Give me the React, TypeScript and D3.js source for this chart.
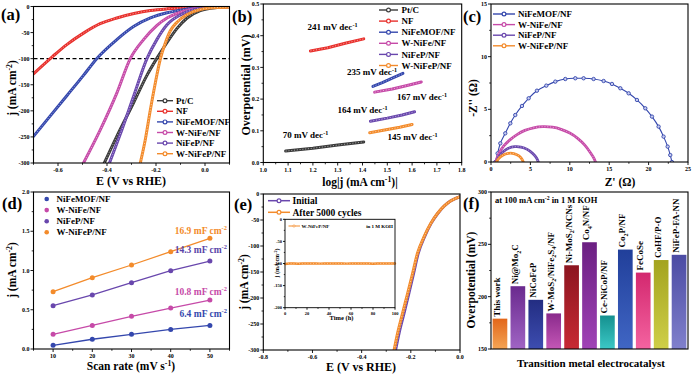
import React from "react";
import * as d3 from "d3";

const FONT = "'Liberation Serif','Times New Roman',Times,serif";
const W = 693;
const H = 376;
type P = [number, number];

const C_PTC = "#3a3a3a";
const C_NF = "#e8302c";
const C_MOF = "#3447ad";
const C_WNIFE = "#c64aa8";
const C_NIFEP = "#6947ad";
const C_WNIFEP = "#f38b2b";

// ---------- (a) LSV ----------
const aNames = ["Pt/C", "NF", "NiFeMOF/NF", "W-NiFe/NF", "NiFeP/NF", "W-NiFeP/NF"];
const aColors = [C_PTC, C_NF, C_MOF, C_WNIFE, C_NIFEP, C_WNIFEP];
const aPtC: P[] = [[-0.411, -300], [-0.36, -249], [-0.29, -183], [-0.237, -132], [-0.196, -99], [-0.155, -69], [-0.114, -42], [-0.073, -22], [-0.019, -8], [0.049, -2], [0.1, -0.6]];
const aNF: P[] = [[-0.70, -129], [-0.62, -95], [-0.564, -73], [-0.496, -51], [-0.428, -33], [-0.36, -22], [-0.29, -13.5], [-0.223, -7.7], [-0.155, -4.5], [-0.087, -2.6], [-0.019, -1], [0.1, 0]];
const aMOF: P[] = [[-0.70, -249], [-0.564, -171], [-0.496, -132], [-0.442, -100], [-0.36, -63.5], [-0.29, -38], [-0.223, -22], [-0.155, -12], [-0.087, -6], [-0.019, -2], [0.1, 0]];
const aWNiFe: P[] = [[-0.496, -300], [-0.428, -237], [-0.36, -166], [-0.305, -100], [-0.25, -63], [-0.196, -36], [-0.155, -22], [-0.087, -9], [-0.019, -2.6], [0.1, -0.5]];
const aNiFeP: P[] = [[-0.39, -300], [-0.346, -245], [-0.29, -170], [-0.237, -100], [-0.196, -63], [-0.155, -35], [-0.10, -16], [-0.046, -6], [0.0085, -2], [0.1, 0]];
const aWNiFeP: P[] = [[-0.264, -300], [-0.244, -256], [-0.223, -198], [-0.203, -147], [-0.182, -100], [-0.162, -70], [-0.142, -47], [-0.114, -30], [-0.073, -15.4], [-0.019, -5.8], [0.049, -2], [0.1, -1.3]];
const aSeries = [aPtC, aNF, aMOF, aWNiFe, aNiFeP, aWNiFeP];
const aXTicks = [-0.6, -0.4, -0.2, 0.0];
const aXLabels = ["-0.6", "-0.4", "-0.2", "0.0"];
const aXMinor = [-0.7, -0.5, -0.3, -0.1, 0.1];
const aYTicks = [0, -50, -100, -150, -200, -250, -300];
const aYLabels = ["0", "-50", "-100", "-150", "-200", "-250", "-300"];
const aYMinor = [-25, -75, -125, -175, -225, -275];

// ---------- (b) Tafel ----------
const bPtC: P[] = [[1.09, 0.036], [1.2, 0.045], [1.3, 0.055], [1.405, 0.065]];
const bNF: P[] = [[1.19, 0.352], [1.26, 0.362], [1.33, 0.376], [1.405, 0.39]];
const bMOF: P[] = [[1.442, 0.240], [1.48, 0.252], [1.52, 0.266], [1.563, 0.281]];
const bWNiFe: P[] = [[1.449, 0.222], [1.52, 0.232], [1.58, 0.243], [1.637, 0.254]];
const bNiFeP: P[] = [[1.432, 0.130], [1.5, 0.140], [1.56, 0.150], [1.61, 0.160]];
const bWNiFeP: P[] = [[1.429, 0.094], [1.5, 0.104], [1.55, 0.111], [1.60, 0.120]];
const bSeries = [bPtC, bNF, bMOF, bWNiFe, bNiFeP, bWNiFeP];
const bSlopes = ["70", "241", "235", "167", "164", "145"];
const bXTicks = [1.0, 1.1, 1.2, 1.3, 1.4, 1.5, 1.6, 1.7, 1.8];
const bXLabels = ["1.0", "1.1", "1.2", "1.3", "1.4", "1.5", "1.6", "1.7", "1.8"];
const bXMinor = [1.05, 1.15, 1.25, 1.35, 1.45, 1.55, 1.65, 1.75];
const bYTicks = [0, 0.1, 0.2, 0.3, 0.4, 0.5];
const bYLabels = ["0.0", "0.1", "0.2", "0.3", "0.4", "0.5"];
const bYMinor = [0.05, 0.15, 0.25, 0.35, 0.45];

// ---------- (c) Nyquist ----------
const cNames = ["NiFeMOF/NF", "W-NiFe/NF", "NiFeP/NF", "W-NiFeP/NF"];
const cColors = [C_MOF, C_WNIFE, C_NIFEP, C_WNIFEP];
const cMOF: P[] = [[0.55, 0], [0.84, 0.82], [1.18, 1.77], [1.81, 2.72], [2.45, 3.67], [3.08, 4.46], [3.93, 5.32], [4.78, 6.05], [5.83, 6.77], [7.02, 7.25], [8.16, 7.63], [9.43, 7.88], [10.7, 7.95], [11.75, 7.95], [13.02, 7.88], [14.29, 7.69], [15.35, 7.41], [16.41, 7.0], [17.47, 6.52], [18.52, 5.89], [19.58, 5.10], [20.43, 4.31], [21.27, 3.36], [21.9, 2.41], [22.42, 1.46], [22.75, 0.66], [22.96, 0]];
const cWNiFe: P[] = [[0.6, 0], [1.0, 0.8], [1.6, 1.5], [2.4, 2.1], [3.3, 2.6], [4.3, 3.0], [5.4, 3.25], [6.6, 3.35], [7.8, 3.3], [8.9, 3.1], [10.0, 2.75], [11.0, 2.25], [11.9, 1.6], [12.6, 0.9], [13.1, 0.3], [13.25, 0]];
const cNiFeP: P[] = [[0.7, 0], [1.0, 0.5], [1.5, 0.95], [2.2, 1.3], [3.0, 1.45], [3.8, 1.42], [4.6, 1.2], [5.3, 0.8], [5.8, 0.35], [6.0, 0]];
const cWNiFeP: P[] = [[0.7, 0], [1.0, 0.35], [1.5, 0.65], [2.2, 0.82], [2.9, 0.8], [3.5, 0.6], [3.9, 0.3], [4.1, 0]];
const cSeries = [cMOF, cWNiFe, cNiFeP, cWNiFeP];
const cXTicks = [0, 5, 10, 15, 20, 25];
const cXLabels = ["0", "5", "10", "15", "20", "25"];
const cXMinor = [2.5, 7.5, 12.5, 17.5, 22.5];
const cYTicks = [0, 5, 10, 15];
const cYLabels = ["0", "5", "10", "15"];
const cYMinor = [2.5, 7.5, 12.5];

// ---------- (d) Cdl ----------
const dRates = [10, 20, 30, 40, 50];
const dMOF = [0.047, 0.124, 0.187, 0.25, 0.30];
const dWNiFe = [0.187, 0.30, 0.416, 0.522, 0.624];
const dNiFeP = [0.552, 0.688, 0.845, 0.997, 1.12];
const dWNiFeP = [0.73, 0.908, 1.07, 1.24, 1.41];
const dSeries = [dMOF, dWNiFe, dNiFeP, dWNiFeP];
const dColors = [C_MOF, C_WNIFE, C_NIFEP, C_WNIFEP];
const dCdl = ["6.4", "10.8", "14.3", "16.9"];
const dXTicks = [10, 20, 30, 40, 50];
const dXLabels = ["10", "20", "30", "40", "50"];
const dXMinor = [5, 15, 25, 35, 45, 55];
const dYTicks = [0, 0.5, 1.0, 1.5, 2.0];
const dYLabels = ["0.0", "0.5", "1.0", "1.5", "2.0"];
const dYMinor = [0.25, 0.75, 1.25, 1.75];

// ---------- (e) stability ----------
const eInitial: P[] = [[-0.262, -300], [-0.248, -268], [-0.228, -230], [-0.208, -191], [-0.189, -153], [-0.17, -114], [-0.144, -82], [-0.117, -56], [-0.09, -37], [-0.064, -23], [-0.037, -13], [0, -5]];
const eAfter: P[] = [[-0.268, -300], [-0.254, -268], [-0.234, -230], [-0.213, -191], [-0.193, -153], [-0.173, -114], [-0.146, -82], [-0.118, -56], [-0.091, -37], [-0.064, -23], [-0.037, -13], [0, -5]];
const eXTicks = [-0.8, -0.6, -0.4, -0.2, 0.0];
const eXLabels = ["-0.8", "-0.6", "-0.4", "-0.2", "0.0"];
const eXMinor = [-0.7, -0.5, -0.3, -0.1];
const eYTicks = [0, -50, -100, -150, -200, -250, -300];
const eYLabels = ["0", "-50", "-100", "-150", "-200", "-250", "-300"];
const eYMinor = [-25, -75, -125, -175, -225, -275];
const iTime = [0, 4, 8, 12, 16, 20, 24, 28, 32, 36, 40, 44, 48, 52, 56, 60, 64, 68, 72, 76, 80, 84, 88, 92, 96, 100];
const iJ = [-101, -100, -100, -100.5, -100, -99.8, -100, -100, -100.3, -100, -100, -99.7, -100, -100, -100.2, -100, -100, -99.9, -100, -100, -100.4, -100, -100, -99.8, -100, -100];
const iXTicks = [0, 20, 40, 60, 80, 100];
const iYTicks = [0, -50, -100, -150, -200];

// ---------- (f) comparison ----------
const fCats = ["This work", "Ni@Mo_2C", "NiCoFeP", "W-MoS_2/NiFe_2S_4/NF", "Ni-MoS_2/NCNs", "Co_4N/NF", "Ce-NiCoP/NF", "Co_2P/NF", "FeCoSe", "CoHF/P-O", "NiFeP-FA-NN"];
const fVals = [179, 210, 197, 184, 230, 252, 182, 245, 223, 235, 240];
const fTopCol = ["#e2661a", "#6a2a8e", "#232d82", "#8a2a8c", "#8c1520", "#6b1f82", "#14908f", "#213f9a", "#d3286f", "#a3a31f", "#4b4ba3"];
const fBotCol = ["#f4a555", "#a064c4", "#3d4db0", "#c457b6", "#c72a33", "#a043b6", "#3cc8c6", "#4066c4", "#f463a0", "#cfcf48", "#8080cc"];
const fYTicks = [150, 200, 250, 300];
const fYLabels = ["150", "200", "250", "300"];
const fYMinor = [175, 225, 275];

const tickStyle = { fontFamily: FONT, fontWeight: 700 as const };

function Frame({ xs, ys, xt, xl, xm, yt, yl, ym, fs = 6, tl = 3, sw = 1.1 }: any) {
  const [xa, xb] = xs.range();
  const [yb, ya] = ys.range();
  return (
    <g>
      <rect x={xa} y={ya} width={xb - xa} height={yb - ya} fill="none" stroke="#000" strokeWidth={sw} />
      {xt.map((v: number, i: number) => (
        <g key={"xt" + i}>
          <line x1={xs(v)} x2={xs(v)} y1={yb} y2={yb + tl} stroke="#000" strokeWidth={0.9} />
          <text x={xs(v)} y={yb + tl + fs + 0.3} fontSize={fs} textAnchor="middle" {...tickStyle}>{xl[i]}</text>
        </g>
      ))}
      {xm.map((v: number, i: number) => (
        <line key={"xm" + i} x1={xs(v)} x2={xs(v)} y1={yb} y2={yb + tl * 0.6} stroke="#000" strokeWidth={0.8} />
      ))}
      {yt.map((v: number, i: number) => (
        <g key={"yt" + i}>
          <line x1={xa - tl} x2={xa} y1={ys(v)} y2={ys(v)} stroke="#000" strokeWidth={0.9} />
          <text x={xa - tl - 1} y={ys(v)} dy="0.35em" fontSize={fs} textAnchor="end" {...tickStyle}>{yl[i]}</text>
        </g>
      ))}
      {ym.map((v: number, i: number) => (
        <line key={"ym" + i} x1={xa - tl * 0.6} x2={xa} y1={ys(v)} y2={ys(v)} stroke="#000" strokeWidth={0.8} />
      ))}
    </g>
  );
}

function Beads({ d, color, w = 3 }: { d: string; color: string; w?: number }) {
  return (
    <g>
      <path d={d} fill="none" stroke={color} strokeWidth={w} strokeLinejoin="round" strokeLinecap="round" />
      <path d={d} fill="none" stroke="#fff" strokeOpacity={0.55} strokeWidth={w * 0.33} strokeDasharray="1.1 1.7" />
    </g>
  );
}

function SubText({ label, fs }: { label: string; fs: number }) {
  const parts = label.split(/_(\d)/);
  const out: any[] = [];
  let shifted = false;
  parts.forEach((p, i) => {
    if (p === "") return;
    if (i % 2 === 1) {
      out.push(<tspan key={i} dy={fs * 0.3} fontSize={fs * 0.68}>{p}</tspan>);
      shifted = true;
    } else {
      out.push(<tspan key={i} dy={shifted ? -fs * 0.3 : 0}>{p}</tspan>);
      shifted = false;
    }
  });
  return <>{out}</>;
}

function Sup({ base, sup, tail, fs }: { base: string; sup: string; tail?: string; fs: number }) {
  return (
    <>
      {base}
      <tspan dy={-fs * 0.38} fontSize={fs * 0.68}>{sup}</tspan>
      {tail ? <tspan dy={fs * 0.38}>{tail}</tspan> : null}
    </>
  );
}

export default function App() {
  const ax = d3.scaleLinear().domain([-0.7, 0.1]).range([33.5, 229.5]);
  const ay = d3.scaleLinear().domain([-300, 0]).range([163, 6.5]);
  const bx = d3.scaleLinear().domain([1.0, 1.8]).range([263.3, 461.7]);
  const by = d3.scaleLinear().domain([0, 0.5]).range([162.5, 4]);
  const cx = d3.scaleLinear().domain([0, 25]).range([491, 688]);
  const cy = d3.scaleLinear().domain([0, 15]).range([162, 4]);
  const dxs = d3.scaleLinear().domain([5, 55]).range([33.5, 229.5]);
  const dys = d3.scaleLinear().domain([0, 2]).range([349, 192]);
  const ex = d3.scaleLinear().domain([-0.8, 0]).range([263.3, 460]);
  const ey = d3.scaleLinear().domain([-300, 0]).range([350, 194]);
  const ix = d3.scaleLinear().domain([0, 100]).range([285, 395]);
  const iy = d3.scaleLinear().domain([-200, 0]).range([307.7, 219.3]);
  const fx = d3.scaleBand<string>().domain(fCats).range([491, 688]).paddingInner(0.18).paddingOuter(0.09);
  const fy = d3.scaleLinear().domain([150, 300]).range([349, 192]);

  const mk = (xs: any, ys: any, curve: any = d3.curveMonotoneX) =>
    d3.line<P>().x((d) => xs(d[0])).y((d) => ys(d[1])).curve(curve);
  const la = mk(ax, ay);
  const lb = mk(bx, by, d3.curveLinear);
  const lc = mk(cx, cy, d3.curveCatmullRom);
  const le = mk(ex, ey);
  const li = mk(ix, iy, d3.curveLinear);
  const ld = d3.line<number>().x((_, i) => dxs(dRates[i])).y((v) => dys(v));

  const T = { fontFamily: FONT, fontWeight: 700 as const, fill: "#000" };
  const PL = 16.5;
  const clip = (id: string, xs: any, ys: any) => {
    const [x0, x1] = xs.range();
    const [y1, y0] = ys.range();
    return (
      <clipPath id={id}>
        <rect x={x0} y={y0} width={x1 - x0} height={y1 - y0} />
      </clipPath>
    );
  };

  return (
    <svg width={W} height={H} style={{ position: "absolute", left: 0, top: 0, background: "#fff" }} fontFamily={FONT}>
      <defs>
        {clip("ca", ax, ay)}
        {clip("cb", bx, by)}
        {clip("cc", cx, cy)}
        {clip("ce", ex, ey)}
        {fCats.map((c, i) => (
          <linearGradient key={c} id={"fg" + i} x1="0" y1="0" x2="0" y2="1">
            <stop offset="0%" stopColor={fTopCol[i]} />
            <stop offset="100%" stopColor={fBotCol[i]} />
          </linearGradient>
        ))}
      </defs>
      <rect width={W} height={H} fill="#fff" />

      {/* ================= (a) ================= */}
      <g clipPath="url(#ca)">
        <line x1={ax(-0.7)} x2={ax(0.1)} y1={ay(-100)} y2={ay(-100)} stroke="#000" strokeWidth={1.1} strokeDasharray="4 2.5" />
        {aSeries.map((s, i) => (
          <Beads key={i} d={la(s) as string} color={aColors[i]} w={3} />
        ))}
      </g>
      <Frame xs={ax} ys={ay} xt={aXTicks} xl={aXLabels} xm={aXMinor} yt={aYTicks} yl={aYLabels} ym={aYMinor} />
      {aNames.map((n, i) => {
        const y = 100.7 + i * 10.6;
        return (
          <g key={n}>
            <line x1={157} x2={173} y1={y} y2={y} stroke={aColors[i]} strokeWidth={1.4} />
            <circle cx={165} cy={y} r={1.9} fill="#fff" stroke={aColors[i]} strokeWidth={1.2} />
            <text x={176} y={y} dy="0.35em" fontSize={9} {...T}>{n}</text>
          </g>
        );
      })}
      <text x={16} y={88} fontSize={11.5} textAnchor="middle" transform="rotate(-90 16 88)" {...T}>
        <Sup base="j (mA cm" sup="-2" tail=")" fs={11.5} />
      </text>
      <text x={131} y={185} fontSize={12} textAnchor="middle" {...T}>E (V vs RHE)</text>
      <text x={1} y={20} fontSize={PL} {...T}>(a)</text>

      {/* ================= (b) ================= */}
      <g clipPath="url(#cb)">
        {bSeries.map((s, i) => (
          <Beads key={i} d={lb(s) as string} color={aColors[i]} w={3} />
        ))}
      </g>
      <Frame xs={bx} ys={by} xt={bXTicks} xl={bXLabels} xm={bXMinor} yt={bYTicks} yl={bYLabels} ym={bYMinor} />
      {aNames.map((n, i) => {
        const y = 10 + i * 11.1;
        return (
          <g key={"b" + n}>
            <line x1={379} x2={398} y1={y} y2={y} stroke={aColors[i]} strokeWidth={1.4} />
            <circle cx={388.5} cy={y} r={1.9} fill="#fff" stroke={aColors[i]} strokeWidth={1.2} />
            <text x={401.5} y={y} dy="0.35em" fontSize={9} {...T}>{n}</text>
          </g>
        );
      })}
      {[
        { i: 0, x: 305.5, y: 138 },
        { i: 1, x: 332.5, y: 30 },
        { i: 2, x: 372, y: 75 },
        { i: 3, x: 422, y: 100 },
        { i: 4, x: 362.5, y: 113 },
        { i: 5, x: 412.5, y: 140 },
      ].map((o) => (
        <text key={"sl" + o.i} x={o.x} y={o.y} fontSize={9} textAnchor="middle" {...T}>
          <Sup base={bSlopes[o.i] + " mV dec"} sup="-1" fs={9} />
        </text>
      ))}
      <text x={250} y={85} fontSize={12} textAnchor="middle" transform="rotate(-90 250 85)" {...T}>Overpotential (mV)</text>
      <text x={360} y={186} fontSize={11.5} textAnchor="middle" {...T}>
        <Sup base="log|j (mA cm" sup="-1" tail=")|" fs={11.5} />
      </text>
      <text x={232} y={22} fontSize={PL} {...T}>(b)</text>

      {/* ================= (c) ================= */}
      <g clipPath="url(#cc)">
        <path d={lc(cMOF) as string} fill="none" stroke={C_MOF} strokeWidth={1.1} />
        {cMOF.map((p, k) => (
          <circle key={k} cx={cx(p[0])} cy={cy(p[1])} r={1.7} fill="#c8ccf0" stroke={C_MOF} strokeWidth={0.9} />
        ))}
        {cSeries.slice(1).map((s, i) => (
          <Beads key={i} d={lc(s) as string} color={cColors[i + 1]} w={2.8} />
        ))}
      </g>
      <Frame xs={cx} ys={cy} xt={cXTicks} xl={cXLabels} xm={cXMinor} yt={cYTicks} yl={cYLabels} ym={cYMinor} />
      {cNames.map((n, i) => {
        const y = 14 + i * 10.6;
        return (
          <g key={"c" + n}>
            <line x1={493} x2={515} y1={y} y2={y} stroke={cColors[i]} strokeWidth={1.4} />
            <circle cx={504} cy={y} r={1.9} fill="#fff" stroke={cColors[i]} strokeWidth={1.2} />
            <text x={518} y={y} dy="0.35em" fontSize={9} {...T}>{n}</text>
          </g>
        );
      })}
      <text x={477} y={98} fontSize={11.5} textAnchor="middle" transform="rotate(-90 477 98)" {...T}>-Z'' (Ω)</text>
      <text x={620} y={186} fontSize={11.5} textAnchor="middle" {...T}>Z' (Ω)</text>
      <text x={463} y={22} fontSize={PL} {...T}>(c)</text>

      {/* ================= (d) ================= */}
      {dSeries.map((s, i) => (
        <g key={"d" + i}>
          <path d={ld(s) as string} fill="none" stroke={dColors[i]} strokeWidth={1.3} />
          {s.map((v, k) => (
            <circle key={k} cx={dxs(dRates[k])} cy={dys(v)} r={2.5} fill={dColors[i]} />
          ))}
        </g>
      ))}
      <Frame xs={dxs} ys={dys} xt={dXTicks} xl={dXLabels} xm={dXMinor} yt={dYTicks} yl={dYLabels} ym={dYMinor} />
      {cNames.map((n, i) => {
        const y = 199 + i * 11.1;
        return (
          <g key={"dl" + n}>
            <circle cx={46.7} cy={y} r={2.3} fill={dColors[i]} />
            <text x={56.5} y={y} dy="0.35em" fontSize={9} {...T}>{n}</text>
          </g>
        );
      })}
      {[
        { i: 3, y: 233.5 },
        { i: 2, y: 253 },
        { i: 1, y: 295 },
        { i: 0, y: 317 },
      ].map((o) => (
        <text key={"cdl" + o.i} x={227} y={o.y} fontSize={9.5} textAnchor="end" fontFamily={FONT} fontWeight={700} fill={o.i === 2 ? "#5a44a8" : dColors[o.i]}>
          <Sup base={dCdl[o.i] + " mF cm"} sup="-2" fs={9.5} />
        </text>
      ))}
      <text x={16} y={270} fontSize={11.5} textAnchor="middle" transform="rotate(-90 16 270)" {...T}>
        <Sup base="j (mA cm" sup="-2" tail=")" fs={11.5} />
      </text>
      <text x={131} y={370} fontSize={11.5} textAnchor="middle" {...T}>
        <Sup base="Scan rate (mV s" sup="-1" tail=")" fs={11.5} />
      </text>
      <text x={2} y={209} fontSize={PL} {...T}>(d)</text>

      {/* ================= (e) ================= */}
      <g clipPath="url(#ce)">
        <Beads d={le(eInitial) as string} color={C_NIFEP} w={3} />
        <Beads d={le(eAfter) as string} color={C_WNIFEP} w={3} />
      </g>
      <Frame xs={ex} ys={ey} xt={eXTicks} xl={eXLabels} xm={eXMinor} yt={eYTicks} yl={eYLabels} ym={eYMinor} />
      {["Initial", "After 5000 cycles"].map((n, i) => {
        const y = 200.7 + i * 11.6;
        const c = i === 0 ? C_NIFEP : C_WNIFEP;
        return (
          <g key={"el" + n}>
            <line x1={268} x2={290} y1={y} y2={y} stroke={c} strokeWidth={1.5} />
            <circle cx={279} cy={y} r={1.9} fill="#fff" stroke={c} strokeWidth={1.2} />
            <text x={292.5} y={y} dy="0.35em" fontSize={9.5} {...T}>{n}</text>
          </g>
        );
      })}
      {/* inset */}
      <rect x={285} y={219.3} width={110} height={88.4} fill="#fff" />
      <Beads d={li(iTime.map((t, k) => [t, iJ[k]] as P)) as string} color={C_WNIFEP} w={2.4} />
      <Frame xs={ix} ys={iy} xt={iXTicks} xl={iXTicks.map(String)} xm={[10, 30, 50, 70, 90]} yt={iYTicks} yl={iYTicks.map(String)} ym={[-25, -75, -125, -175]} fs={4.5} tl={2} sw={0.9} />
      <line x1={288.5} x2={300} y1={226} y2={226} stroke={C_WNIFEP} strokeWidth={1} />
      <circle cx={294} cy={226} r={1.1} fill="#fff" stroke={C_WNIFEP} strokeWidth={0.7} />
      <text x={301.5} y={226} dy="0.35em" fontSize={5} {...T}>W-NiFeP/NF</text>
      <text x={393} y={226} dy="0.35em" fontSize={5} textAnchor="end" {...T}>in 1 M KOH</text>
      <text x={279} y={263} fontSize={6} textAnchor="middle" transform="rotate(-90 279 263)" {...T}>
        <Sup base="j (mA cm" sup="-2" tail=")" fs={6} />
      </text>
      <text x={341.5} y={320} fontSize={6.5} textAnchor="middle" {...T}>Time (h)</text>
      <text x={248} y={282} fontSize={11.5} textAnchor="middle" transform="rotate(-90 248 282)" {...T}>
        <Sup base="j (mA cm" sup="-2" tail=")" fs={11.5} />
      </text>
      <text x={361} y={371} fontSize={12} textAnchor="middle" {...T}>E (V vs RHE)</text>
      <text x={234} y={210} fontSize={PL} {...T}>(e)</text>

      {/* ================= (f) ================= */}
      {fCats.map((c, i) => {
        const x = fx(c) as number;
        const bw = fx.bandwidth();
        const yv = fy(fVals[i]);
        return (
          <g key={"fb" + i}>
            <rect x={x} y={yv} width={bw} height={fy(150) - yv} fill={`url(#fg${i})`} />
            <text x={x + bw / 2} y={yv - 2} fontSize={9} dy="0.35em" transform={`rotate(-90 ${x + bw / 2} ${yv - 2})`} {...T}>
              <SubText label={c} fs={9} />
            </text>
          </g>
        );
      })}
      <Frame xs={{ range: () => [491, 688] } as any} ys={fy} xt={[]} xl={[]} xm={[]} yt={fYTicks} yl={fYLabels} ym={fYMinor} />
      <text x={495} y={203} fontSize={8.5} {...T}>
        <Sup base="at 100 mA cm" sup="-2" tail=" in 1 M KOH" fs={8.5} />
      </text>
      <text x={475} y={280} fontSize={11.5} textAnchor="middle" transform="rotate(-90 475 280)" {...T}>Overpotential (mV)</text>
      <text x={591} y={367} fontSize={11} textAnchor="middle" {...T}>Transition metal electrocatalyst</text>
      <text x={463} y={209} fontSize={PL} {...T}>(f)</text>
    </svg>
  );
}
